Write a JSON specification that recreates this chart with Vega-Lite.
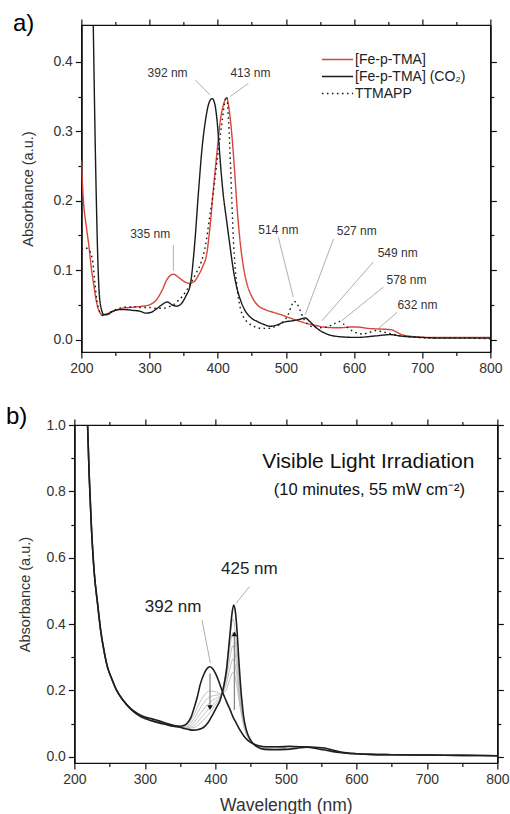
{
  "$schema": "https://vega.github.io/schema/vega-lite/v6.json",
  "background": "white",
  "padding": {"left": 5, "top": 11, "right": 0, "bottom": 0},
  "config": {
    "font": "Liberation Sans",
    "view": {"stroke": "#111", "strokeWidth": 1.2},
    "axis": {"domainColor": "#111", "domainWidth": 1.2, "ticks": true, "tickColor": "#111", "tickWidth": 1.2, "labelFontSize": 14, "labelColor": "#333", "titleFontSize": 14.5, "titleFontWeight": "normal", "titleColor": "#333", "grid": false, "labelOverlap": false, "labelFlush": false}
  },
  "columns": 1,
  "center": true,
  "spacing": 28,
  "concat": [
    {
      "width": 409,
      "height": 327,
      "view": {"stroke": "#111", "strokeWidth": 1.2},
      "title": {"text": "a)", "anchor": "start", "frame": "bounds", "fontSize": 24, "fontWeight": "normal", "color": "#000", "baseline": "alphabetic", "offset": -37, "dx": -8},
      "resolve": {"axis": {"x": "independent", "y": "independent"}},
      "layer": [
        {
          "data": {"values": [
            {"s":"[Fe-p-TMA]","nm":200,"a":0.258},{"s":"[Fe-p-TMA]","nm":203,"a":0.2},{"s":"[Fe-p-TMA]","nm":207,"a":0.165},{"s":"[Fe-p-TMA]","nm":211,"a":0.135},{"s":"[Fe-p-TMA]","nm":215,"a":0.1},{"s":"[Fe-p-TMA]","nm":218,"a":0.08},{"s":"[Fe-p-TMA]","nm":222,"a":0.055},{"s":"[Fe-p-TMA]","nm":226,"a":0.041},{"s":"[Fe-p-TMA]","nm":232,"a":0.035},{"s":"[Fe-p-TMA]","nm":240,"a":0.038},{"s":"[Fe-p-TMA]","nm":250,"a":0.042},{"s":"[Fe-p-TMA]","nm":260,"a":0.045},{"s":"[Fe-p-TMA]","nm":270,"a":0.046},{"s":"[Fe-p-TMA]","nm":280,"a":0.047},{"s":"[Fe-p-TMA]","nm":290,"a":0.048},{"s":"[Fe-p-TMA]","nm":300,"a":0.05},{"s":"[Fe-p-TMA]","nm":310,"a":0.057},{"s":"[Fe-p-TMA]","nm":318,"a":0.07},{"s":"[Fe-p-TMA]","nm":326,"a":0.087},{"s":"[Fe-p-TMA]","nm":335,"a":0.094},{"s":"[Fe-p-TMA]","nm":342,"a":0.09},{"s":"[Fe-p-TMA]","nm":350,"a":0.084},{"s":"[Fe-p-TMA]","nm":358,"a":0.081},{"s":"[Fe-p-TMA]","nm":365,"a":0.083},{"s":"[Fe-p-TMA]","nm":372,"a":0.093},{"s":"[Fe-p-TMA]","nm":378,"a":0.105},{"s":"[Fe-p-TMA]","nm":384,"a":0.124},{"s":"[Fe-p-TMA]","nm":389,"a":0.165},{"s":"[Fe-p-TMA]","nm":394,"a":0.22},{"s":"[Fe-p-TMA]","nm":399,"a":0.27},{"s":"[Fe-p-TMA]","nm":404,"a":0.316},{"s":"[Fe-p-TMA]","nm":409,"a":0.34},{"s":"[Fe-p-TMA]","nm":413,"a":0.348},{"s":"[Fe-p-TMA]","nm":417,"a":0.33},{"s":"[Fe-p-TMA]","nm":421,"a":0.292},{"s":"[Fe-p-TMA]","nm":425,"a":0.24},{"s":"[Fe-p-TMA]","nm":428,"a":0.196},{"s":"[Fe-p-TMA]","nm":433,"a":0.14},{"s":"[Fe-p-TMA]","nm":438,"a":0.103},{"s":"[Fe-p-TMA]","nm":443,"a":0.08},{"s":"[Fe-p-TMA]","nm":450,"a":0.062},{"s":"[Fe-p-TMA]","nm":458,"a":0.05},{"s":"[Fe-p-TMA]","nm":470,"a":0.043},{"s":"[Fe-p-TMA]","nm":482,"a":0.039},{"s":"[Fe-p-TMA]","nm":495,"a":0.035},{"s":"[Fe-p-TMA]","nm":506,"a":0.031},{"s":"[Fe-p-TMA]","nm":518,"a":0.027},{"s":"[Fe-p-TMA]","nm":531,"a":0.023},{"s":"[Fe-p-TMA]","nm":545,"a":0.02},{"s":"[Fe-p-TMA]","nm":555,"a":0.018},{"s":"[Fe-p-TMA]","nm":570,"a":0.017},{"s":"[Fe-p-TMA]","nm":580,"a":0.017},{"s":"[Fe-p-TMA]","nm":595,"a":0.018},{"s":"[Fe-p-TMA]","nm":605,"a":0.018},{"s":"[Fe-p-TMA]","nm":620,"a":0.016},{"s":"[Fe-p-TMA]","nm":640,"a":0.015},{"s":"[Fe-p-TMA]","nm":655,"a":0.014},{"s":"[Fe-p-TMA]","nm":662,"a":0.011},{"s":"[Fe-p-TMA]","nm":670,"a":0.007},{"s":"[Fe-p-TMA]","nm":680,"a":0.005},{"s":"[Fe-p-TMA]","nm":690,"a":0.004},{"s":"[Fe-p-TMA]","nm":710,"a":0.003},{"s":"[Fe-p-TMA]","nm":750,"a":0.003},{"s":"[Fe-p-TMA]","nm":800,"a":0.003},
            {"s":"[Fe-p-TMA] (CO₂)","nm":216,"a":0.55},{"s":"[Fe-p-TMA] (CO₂)","nm":218,"a":0.42},{"s":"[Fe-p-TMA] (CO₂)","nm":220,"a":0.3},{"s":"[Fe-p-TMA] (CO₂)","nm":222,"a":0.2},{"s":"[Fe-p-TMA] (CO₂)","nm":224,"a":0.12},{"s":"[Fe-p-TMA] (CO₂)","nm":226,"a":0.07},{"s":"[Fe-p-TMA] (CO₂)","nm":229,"a":0.045},{"s":"[Fe-p-TMA] (CO₂)","nm":233,"a":0.036},{"s":"[Fe-p-TMA] (CO₂)","nm":238,"a":0.036},{"s":"[Fe-p-TMA] (CO₂)","nm":245,"a":0.04},{"s":"[Fe-p-TMA] (CO₂)","nm":255,"a":0.043},{"s":"[Fe-p-TMA] (CO₂)","nm":265,"a":0.043},{"s":"[Fe-p-TMA] (CO₂)","nm":275,"a":0.042},{"s":"[Fe-p-TMA] (CO₂)","nm":285,"a":0.041},{"s":"[Fe-p-TMA] (CO₂)","nm":295,"a":0.038},{"s":"[Fe-p-TMA] (CO₂)","nm":302,"a":0.039},{"s":"[Fe-p-TMA] (CO₂)","nm":310,"a":0.044},{"s":"[Fe-p-TMA] (CO₂)","nm":318,"a":0.05},{"s":"[Fe-p-TMA] (CO₂)","nm":326,"a":0.054},{"s":"[Fe-p-TMA] (CO₂)","nm":333,"a":0.05},{"s":"[Fe-p-TMA] (CO₂)","nm":340,"a":0.048},{"s":"[Fe-p-TMA] (CO₂)","nm":347,"a":0.052},{"s":"[Fe-p-TMA] (CO₂)","nm":353,"a":0.062},{"s":"[Fe-p-TMA] (CO₂)","nm":360,"a":0.08},{"s":"[Fe-p-TMA] (CO₂)","nm":366,"a":0.135},{"s":"[Fe-p-TMA] (CO₂)","nm":372,"a":0.215},{"s":"[Fe-p-TMA] (CO₂)","nm":377,"a":0.275},{"s":"[Fe-p-TMA] (CO₂)","nm":382,"a":0.315},{"s":"[Fe-p-TMA] (CO₂)","nm":387,"a":0.34},{"s":"[Fe-p-TMA] (CO₂)","nm":392,"a":0.347},{"s":"[Fe-p-TMA] (CO₂)","nm":396,"a":0.338},{"s":"[Fe-p-TMA] (CO₂)","nm":399,"a":0.316},{"s":"[Fe-p-TMA] (CO₂)","nm":402,"a":0.28},{"s":"[Fe-p-TMA] (CO₂)","nm":404,"a":0.254},{"s":"[Fe-p-TMA] (CO₂)","nm":408,"a":0.21},{"s":"[Fe-p-TMA] (CO₂)","nm":413,"a":0.172},{"s":"[Fe-p-TMA] (CO₂)","nm":418,"a":0.135},{"s":"[Fe-p-TMA] (CO₂)","nm":423,"a":0.1},{"s":"[Fe-p-TMA] (CO₂)","nm":428,"a":0.075},{"s":"[Fe-p-TMA] (CO₂)","nm":433,"a":0.058},{"s":"[Fe-p-TMA] (CO₂)","nm":440,"a":0.042},{"s":"[Fe-p-TMA] (CO₂)","nm":448,"a":0.032},{"s":"[Fe-p-TMA] (CO₂)","nm":458,"a":0.026},{"s":"[Fe-p-TMA] (CO₂)","nm":467,"a":0.022},{"s":"[Fe-p-TMA] (CO₂)","nm":477,"a":0.019},{"s":"[Fe-p-TMA] (CO₂)","nm":487,"a":0.021},{"s":"[Fe-p-TMA] (CO₂)","nm":497,"a":0.025},{"s":"[Fe-p-TMA] (CO₂)","nm":510,"a":0.027},{"s":"[Fe-p-TMA] (CO₂)","nm":520,"a":0.029},{"s":"[Fe-p-TMA] (CO₂)","nm":528,"a":0.031},{"s":"[Fe-p-TMA] (CO₂)","nm":535,"a":0.026},{"s":"[Fe-p-TMA] (CO₂)","nm":542,"a":0.019},{"s":"[Fe-p-TMA] (CO₂)","nm":550,"a":0.013},{"s":"[Fe-p-TMA] (CO₂)","nm":560,"a":0.008},{"s":"[Fe-p-TMA] (CO₂)","nm":579,"a":0.004},{"s":"[Fe-p-TMA] (CO₂)","nm":604,"a":0.003},{"s":"[Fe-p-TMA] (CO₂)","nm":630,"a":0.005},{"s":"[Fe-p-TMA] (CO₂)","nm":653,"a":0.007},{"s":"[Fe-p-TMA] (CO₂)","nm":668,"a":0.005},{"s":"[Fe-p-TMA] (CO₂)","nm":680,"a":0.004},{"s":"[Fe-p-TMA] (CO₂)","nm":700,"a":0.003},{"s":"[Fe-p-TMA] (CO₂)","nm":726,"a":0.002},{"s":"[Fe-p-TMA] (CO₂)","nm":800,"a":0.002},
            {"s":"TTMAPP","nm":200,"a":0.13},{"s":"TTMAPP","nm":205,"a":0.132},{"s":"TTMAPP","nm":210,"a":0.13},{"s":"TTMAPP","nm":214,"a":0.124},{"s":"TTMAPP","nm":217,"a":0.11},{"s":"TTMAPP","nm":220,"a":0.08},{"s":"TTMAPP","nm":223,"a":0.055},{"s":"TTMAPP","nm":227,"a":0.04},{"s":"TTMAPP","nm":233,"a":0.034},{"s":"TTMAPP","nm":240,"a":0.038},{"s":"TTMAPP","nm":250,"a":0.043},{"s":"TTMAPP","nm":260,"a":0.046},{"s":"TTMAPP","nm":270,"a":0.047},{"s":"TTMAPP","nm":280,"a":0.047},{"s":"TTMAPP","nm":290,"a":0.046},{"s":"TTMAPP","nm":300,"a":0.046},{"s":"TTMAPP","nm":310,"a":0.045},{"s":"TTMAPP","nm":320,"a":0.045},{"s":"TTMAPP","nm":328,"a":0.047},{"s":"TTMAPP","nm":335,"a":0.05},{"s":"TTMAPP","nm":342,"a":0.056},{"s":"TTMAPP","nm":348,"a":0.062},{"s":"TTMAPP","nm":357,"a":0.075},{"s":"TTMAPP","nm":368,"a":0.095},{"s":"TTMAPP","nm":376,"a":0.112},{"s":"TTMAPP","nm":382,"a":0.135},{"s":"TTMAPP","nm":388,"a":0.175},{"s":"TTMAPP","nm":394,"a":0.215},{"s":"TTMAPP","nm":400,"a":0.265},{"s":"TTMAPP","nm":406,"a":0.31},{"s":"TTMAPP","nm":410,"a":0.34},{"s":"TTMAPP","nm":413,"a":0.35},{"s":"TTMAPP","nm":416,"a":0.315},{"s":"TTMAPP","nm":419,"a":0.245},{"s":"TTMAPP","nm":423,"a":0.145},{"s":"TTMAPP","nm":428,"a":0.078},{"s":"TTMAPP","nm":433,"a":0.046},{"s":"TTMAPP","nm":438,"a":0.032},{"s":"TTMAPP","nm":445,"a":0.024},{"s":"TTMAPP","nm":455,"a":0.018},{"s":"TTMAPP","nm":465,"a":0.016},{"s":"TTMAPP","nm":475,"a":0.016},{"s":"TTMAPP","nm":485,"a":0.019},{"s":"TTMAPP","nm":495,"a":0.025},{"s":"TTMAPP","nm":503,"a":0.035},{"s":"TTMAPP","nm":508,"a":0.048},{"s":"TTMAPP","nm":512,"a":0.055},{"s":"TTMAPP","nm":516,"a":0.052},{"s":"TTMAPP","nm":521,"a":0.042},{"s":"TTMAPP","nm":526,"a":0.03},{"s":"TTMAPP","nm":532,"a":0.022},{"s":"TTMAPP","nm":540,"a":0.018},{"s":"TTMAPP","nm":550,"a":0.017},{"s":"TTMAPP","nm":560,"a":0.018},{"s":"TTMAPP","nm":570,"a":0.022},{"s":"TTMAPP","nm":578,"a":0.026},{"s":"TTMAPP","nm":585,"a":0.022},{"s":"TTMAPP","nm":592,"a":0.016},{"s":"TTMAPP","nm":600,"a":0.011},{"s":"TTMAPP","nm":612,"a":0.008},{"s":"TTMAPP","nm":622,"a":0.01},{"s":"TTMAPP","nm":632,"a":0.013},{"s":"TTMAPP","nm":642,"a":0.011},{"s":"TTMAPP","nm":655,"a":0.008},{"s":"TTMAPP","nm":670,"a":0.005},{"s":"TTMAPP","nm":690,"a":0.003},{"s":"TTMAPP","nm":720,"a":0.002},{"s":"TTMAPP","nm":760,"a":0.002},{"s":"TTMAPP","nm":800,"a":0.001}
          ]},
          "mark": {"type": "line", "strokeWidth": 1.4, "clip": true, "interpolate": "monotone"},
          "encoding": {
            "x": {"field": "nm", "type": "quantitative", "scale": {"domain": [200, 800], "nice": false, "zero": false},
              "axis": {"orient": "bottom", "title": null, "values": [200,300,400,500,600,700,800], "tickSize": 6, "labelPadding": 3}},
            "y": {"field": "a", "type": "quantitative", "scale": {"domain": [-0.018, 0.453], "nice": false, "zero": false},
              "axis": {"orient": "left", "title": "Absorbance (a.u.)", "titlePadding": 17, "values": [0,0.1,0.2,0.3,0.4], "format": ".1f", "tickSize": 6, "labelPadding": 3}},
            "color": {"field": "s", "type": "nominal", "scale": {"domain": ["[Fe-p-TMA]", "[Fe-p-TMA] (CO₂)", "TTMAPP"], "range": ["#d6453a", "#1a1a1a", "#1a1a1a"]},
              "legend": {"title": null, "orient": "none", "legendX": 254, "legendY": 25, "symbolType": "M-1.8,0H1.8", "symbolSize": 300, "symbolStrokeWidth": 1.5, "labelFontSize": 14, "labelColor": "#222", "labelOffset": 8, "rowPadding": -4, "padding": 0}},
            "strokeDash": {"field": "s", "type": "nominal", "scale": {"domain": ["[Fe-p-TMA]", "[Fe-p-TMA] (CO₂)", "TTMAPP"], "range": [[1, 0], [1, 0], [1.6, 3.4]]},
              "legend": {"title": null, "orient": "none", "legendX": 254, "legendY": 25, "symbolType": "M-1.8,0H1.8", "symbolSize": 300, "symbolStrokeWidth": 1.5, "labelFontSize": 14, "labelColor": "#222", "labelOffset": 8, "rowPadding": -4, "padding": 0}}
          }
        },
        {
          "data": {"values": [
            {"x1":367,"y1":0.374,"x2":389,"y2":0.352},
            {"x1":445,"y1":0.369,"x2":418.5,"y2":0.35},
            {"x1":335,"y1":0.136,"x2":335,"y2":0.099}
          ]},
          "mark": {"type": "rule", "color": "#9a9a9a", "strokeWidth": 0.8},
          "encoding": {
            "x": {"field": "x1", "type": "quantitative", "scale": {"domain": [200, 800], "nice": false, "zero": false},
              "axis": {"orient": "bottom", "title": null, "labels": false, "values": [250,350,450,550,650,750], "tickSize": 3.5}},
            "y": {"field": "y1", "type": "quantitative", "scale": {"domain": [-0.018, 0.453], "nice": false, "zero": false},
              "axis": {"orient": "left", "title": null, "labels": false, "values": [0.05,0.15,0.25,0.35], "tickSize": 3.5}},
            "x2": {"field": "x2"},
            "y2": {"field": "y2"}
          }
        },
        {
          "data": {"values": [
            {"x1":489,"y1":0.147,"x2":511,"y2":0.061},
            {"x1":570,"y1":0.145,"x2":528.5,"y2":0.036},
            {"x1":628.6,"y1":0.112,"x2":553,"y2":0.027},
            {"x1":643,"y1":0.0755,"x2":582,"y2":0.027},
            {"x1":663,"y1":0.039,"x2":636,"y2":0.016}
          ]},
          "mark": {"type": "rule", "color": "#9a9a9a", "strokeWidth": 0.8},
          "encoding": {
            "x": {"field": "x1", "type": "quantitative", "scale": {"domain": [200, 800], "nice": false, "zero": false},
              "axis": {"orient": "top", "title": null, "labels": false, "values": [200,300,400,500,600,700,800], "tickSize": 6}},
            "y": {"field": "y1", "type": "quantitative", "scale": {"domain": [-0.018, 0.453], "nice": false, "zero": false},
              "axis": {"orient": "right", "title": null, "labels": false, "values": [0,0.1,0.2,0.3,0.4], "tickSize": 6}},
            "x2": {"field": "x2"},
            "y2": {"field": "y2"}
          }
        },
        {
          "data": {"values": [
            {"t":"392 nm","x":326.5,"y":0.384},
            {"t":"413 nm","x":448,"y":0.384},
            {"t":"335 nm","x":301,"y":0.1525}
          ]},
          "mark": {"type": "text", "fontSize": 12, "color": "#333", "align": "center", "baseline": "middle"},
          "encoding": {
            "x": {"field": "x", "type": "quantitative", "scale": {"domain": [200, 800], "nice": false, "zero": false},
              "axis": {"orient": "top", "title": null, "labels": false, "values": [250,350,450,550,650,750], "tickSize": 3.5}},
            "y": {"field": "y", "type": "quantitative", "scale": {"domain": [-0.018, 0.453], "nice": false, "zero": false},
              "axis": {"orient": "right", "title": null, "labels": false, "values": [0.05,0.15,0.25,0.35], "tickSize": 3.5}},
            "text": {"field": "t"}
          }
        },
        {
          "data": {"values": [
            {"t":"514 nm","x":489,"y":0.158},
            {"t":"527 nm","x":604,"y":0.156},
            {"t":"549 nm","x":664,"y":0.124},
            {"t":"578 nm","x":677,"y":0.085},
            {"t":"632 nm","x":693,"y":0.049}
          ]},
          "mark": {"type": "text", "fontSize": 12, "color": "#333", "align": "center", "baseline": "middle"},
          "encoding": {
            "x": {"field": "x", "type": "quantitative", "scale": {"domain": [200, 800], "nice": false, "zero": false}, "axis": null},
            "y": {"field": "y", "type": "quantitative", "scale": {"domain": [-0.018, 0.453], "nice": false, "zero": false}, "axis": null},
            "text": {"field": "t"}
          }
        }
      ]
    },
    {
      "width": 423,
      "height": 338,
      "view": {"stroke": "#111", "strokeWidth": 1.2},
      "title": {"text": "b)", "anchor": "start", "frame": "bounds", "fontSize": 24, "fontWeight": "normal", "color": "#000", "baseline": "alphabetic", "offset": -30, "dx": -12},
      "resolve": {"axis": {"x": "independent", "y": "independent"}},
      "layer": [
        {
          "data": {"values": [
            {"c":"g1","nm":290,"a":0.129},{"c":"g1","nm":300,"a":0.119},{"c":"g1","nm":320,"a":0.107},{"c":"g1","nm":340,"a":0.094},{"c":"g1","nm":350,"a":0.091},{"c":"g1","nm":360,"a":0.097},{"c":"g1","nm":370,"a":0.128},{"c":"g1","nm":380,"a":0.172},{"c":"g1","nm":392,"a":0.198},{"c":"g1","nm":400,"a":0.196},{"c":"g1","nm":408,"a":0.19},{"c":"g1","nm":415,"a":0.2},{"c":"g1","nm":420,"a":0.23},{"c":"g1","nm":425,"a":0.255},{"c":"g1","nm":430,"a":0.22},{"c":"g1","nm":435,"a":0.15},{"c":"g1","nm":440,"a":0.095},{"c":"g1","nm":450,"a":0.047},{"c":"g1","nm":465,"a":0.031},{"c":"g1","nm":480,"a":0.029},{"c":"g1","nm":500,"a":0.03},
            {"c":"g2","nm":290,"a":0.128},{"c":"g2","nm":300,"a":0.118},{"c":"g2","nm":320,"a":0.106},{"c":"g2","nm":340,"a":0.094},{"c":"g2","nm":350,"a":0.09},{"c":"g2","nm":360,"a":0.093},{"c":"g2","nm":370,"a":0.115},{"c":"g2","nm":380,"a":0.152},{"c":"g2","nm":392,"a":0.18},{"c":"g2","nm":400,"a":0.185},{"c":"g2","nm":408,"a":0.188},{"c":"g2","nm":415,"a":0.215},{"c":"g2","nm":420,"a":0.26},{"c":"g2","nm":425,"a":0.295},{"c":"g2","nm":430,"a":0.25},{"c":"g2","nm":435,"a":0.16},{"c":"g2","nm":440,"a":0.1},{"c":"g2","nm":450,"a":0.047},{"c":"g2","nm":465,"a":0.029},{"c":"g2","nm":480,"a":0.027},{"c":"g2","nm":500,"a":0.028},
            {"c":"g3","nm":290,"a":0.127},{"c":"g3","nm":300,"a":0.117},{"c":"g3","nm":320,"a":0.105},{"c":"g3","nm":340,"a":0.093},{"c":"g3","nm":350,"a":0.09},{"c":"g3","nm":360,"a":0.09},{"c":"g3","nm":370,"a":0.104},{"c":"g3","nm":380,"a":0.134},{"c":"g3","nm":392,"a":0.163},{"c":"g3","nm":400,"a":0.175},{"c":"g3","nm":408,"a":0.186},{"c":"g3","nm":415,"a":0.23},{"c":"g3","nm":420,"a":0.29},{"c":"g3","nm":425,"a":0.335},{"c":"g3","nm":430,"a":0.28},{"c":"g3","nm":435,"a":0.175},{"c":"g3","nm":440,"a":0.105},{"c":"g3","nm":450,"a":0.048},{"c":"g3","nm":465,"a":0.028},{"c":"g3","nm":480,"a":0.025},{"c":"g3","nm":500,"a":0.026},
            {"c":"g4","nm":290,"a":0.127},{"c":"g4","nm":300,"a":0.116},{"c":"g4","nm":320,"a":0.104},{"c":"g4","nm":340,"a":0.093},{"c":"g4","nm":350,"a":0.089},{"c":"g4","nm":360,"a":0.087},{"c":"g4","nm":370,"a":0.095},{"c":"g4","nm":380,"a":0.118},{"c":"g4","nm":392,"a":0.147},{"c":"g4","nm":400,"a":0.165},{"c":"g4","nm":408,"a":0.185},{"c":"g4","nm":415,"a":0.245},{"c":"g4","nm":420,"a":0.32},{"c":"g4","nm":425,"a":0.375},{"c":"g4","nm":430,"a":0.31},{"c":"g4","nm":435,"a":0.19},{"c":"g4","nm":440,"a":0.11},{"c":"g4","nm":450,"a":0.049},{"c":"g4","nm":465,"a":0.027},{"c":"g4","nm":480,"a":0.023},{"c":"g4","nm":500,"a":0.024},
            {"c":"g5","nm":290,"a":0.126},{"c":"g5","nm":300,"a":0.116},{"c":"g5","nm":320,"a":0.103},{"c":"g5","nm":340,"a":0.092},{"c":"g5","nm":350,"a":0.089},{"c":"g5","nm":360,"a":0.085},{"c":"g5","nm":370,"a":0.088},{"c":"g5","nm":380,"a":0.104},{"c":"g5","nm":392,"a":0.132},{"c":"g5","nm":400,"a":0.156},{"c":"g5","nm":408,"a":0.183},{"c":"g5","nm":415,"a":0.26},{"c":"g5","nm":420,"a":0.35},{"c":"g5","nm":425,"a":0.415},{"c":"g5","nm":430,"a":0.34},{"c":"g5","nm":435,"a":0.2},{"c":"g5","nm":440,"a":0.115},{"c":"g5","nm":450,"a":0.049},{"c":"g5","nm":465,"a":0.026},{"c":"g5","nm":480,"a":0.022},{"c":"g5","nm":500,"a":0.023}
          ]},
          "mark": {"type": "line", "color": "#b9b9b9", "strokeWidth": 0.9, "interpolate": "monotone", "clip": true},
          "encoding": {
            "x": {"field": "nm", "type": "quantitative", "scale": {"domain": [200, 800], "nice": false, "zero": false},
              "axis": {"orient": "top", "title": null, "labels": false, "values": [200,300,400,500,600,700,800], "tickSize": 6}},
            "y": {"field": "a", "type": "quantitative", "scale": {"domain": [-0.019, 1.0], "nice": false, "zero": false},
              "axis": {"orient": "right", "title": null, "labels": false, "values": [0,0.2,0.4,0.6,0.8,1.0], "tickSize": 6}},
            "detail": {"field": "c"}
          }
        },
        {
          "data": {"values": [
            {"c":"t0","nm":218,"a":1.05},{"c":"t0","nm":221,"a":0.85},{"c":"t0","nm":224,"a":0.7},{"c":"t0","nm":228,"a":0.56},{"c":"t0","nm":233,"a":0.46},{"c":"t0","nm":238,"a":0.37},{"c":"t0","nm":242,"a":0.32},{"c":"t0","nm":247,"a":0.27},{"c":"t0","nm":253,"a":0.235},{"c":"t0","nm":260,"a":0.2},{"c":"t0","nm":270,"a":0.168},{"c":"t0","nm":280,"a":0.145},{"c":"t0","nm":290,"a":0.13},{"c":"t0","nm":300,"a":0.12},{"c":"t0","nm":310,"a":0.114},{"c":"t0","nm":320,"a":0.108},{"c":"t0","nm":330,"a":0.101},{"c":"t0","nm":340,"a":0.095},{"c":"t0","nm":350,"a":0.092},{"c":"t0","nm":355,"a":0.094},{"c":"t0","nm":360,"a":0.101},{"c":"t0","nm":365,"a":0.117},{"c":"t0","nm":369,"a":0.141},{"c":"t0","nm":374,"a":0.177},{"c":"t0","nm":379,"a":0.221},{"c":"t0","nm":384,"a":0.25},{"c":"t0","nm":388,"a":0.265},{"c":"t0","nm":392,"a":0.271},{"c":"t0","nm":396,"a":0.266},{"c":"t0","nm":400,"a":0.252},{"c":"t0","nm":404,"a":0.232},{"c":"t0","nm":408,"a":0.208},{"c":"t0","nm":413,"a":0.18},{"c":"t0","nm":417,"a":0.16},{"c":"t0","nm":421,"a":0.141},{"c":"t0","nm":425,"a":0.12},{"c":"t0","nm":430,"a":0.1},{"c":"t0","nm":435,"a":0.08},{"c":"t0","nm":442,"a":0.058},{"c":"t0","nm":450,"a":0.043},{"c":"t0","nm":460,"a":0.034},{"c":"t0","nm":473,"a":0.03},{"c":"t0","nm":490,"a":0.03},{"c":"t0","nm":505,"a":0.031},{"c":"t0","nm":520,"a":0.03},{"c":"t0","nm":535,"a":0.028},{"c":"t0","nm":550,"a":0.022},{"c":"t0","nm":565,"a":0.016},{"c":"t0","nm":580,"a":0.012},{"c":"t0","nm":600,"a":0.009},{"c":"t0","nm":620,"a":0.007},{"c":"t0","nm":650,"a":0.006},{"c":"t0","nm":700,"a":0.005},{"c":"t0","nm":750,"a":0.004},{"c":"t0","nm":800,"a":0.003},
            {"c":"t6","nm":218,"a":1.05},{"c":"t6","nm":221,"a":0.85},{"c":"t6","nm":224,"a":0.7},{"c":"t6","nm":228,"a":0.56},{"c":"t6","nm":233,"a":0.46},{"c":"t6","nm":238,"a":0.37},{"c":"t6","nm":242,"a":0.32},{"c":"t6","nm":247,"a":0.27},{"c":"t6","nm":253,"a":0.235},{"c":"t6","nm":260,"a":0.2},{"c":"t6","nm":270,"a":0.168},{"c":"t6","nm":280,"a":0.143},{"c":"t6","nm":290,"a":0.126},{"c":"t6","nm":300,"a":0.115},{"c":"t6","nm":310,"a":0.108},{"c":"t6","nm":320,"a":0.102},{"c":"t6","nm":330,"a":0.097},{"c":"t6","nm":340,"a":0.092},{"c":"t6","nm":350,"a":0.089},{"c":"t6","nm":356,"a":0.085},{"c":"t6","nm":362,"a":0.082},{"c":"t6","nm":369,"a":0.08},{"c":"t6","nm":376,"a":0.082},{"c":"t6","nm":383,"a":0.088},{"c":"t6","nm":390,"a":0.104},{"c":"t6","nm":397,"a":0.13},{"c":"t6","nm":402,"a":0.15},{"c":"t6","nm":407,"a":0.172},{"c":"t6","nm":412,"a":0.213},{"c":"t6","nm":416,"a":0.265},{"c":"t6","nm":419,"a":0.33},{"c":"t6","nm":421,"a":0.375},{"c":"t6","nm":423.5,"a":0.43},{"c":"t6","nm":426,"a":0.457},{"c":"t6","nm":428.5,"a":0.435},{"c":"t6","nm":431,"a":0.372},{"c":"t6","nm":433,"a":0.3},{"c":"t6","nm":435.5,"a":0.221},{"c":"t6","nm":438,"a":0.16},{"c":"t6","nm":440,"a":0.122},{"c":"t6","nm":444,"a":0.08},{"c":"t6","nm":450,"a":0.05},{"c":"t6","nm":455,"a":0.037},{"c":"t6","nm":460,"a":0.029},{"c":"t6","nm":470,"a":0.022},{"c":"t6","nm":485,"a":0.021},{"c":"t6","nm":500,"a":0.022},{"c":"t6","nm":515,"a":0.025},{"c":"t6","nm":530,"a":0.029},{"c":"t6","nm":542,"a":0.028},{"c":"t6","nm":555,"a":0.026},{"c":"t6","nm":565,"a":0.021},{"c":"t6","nm":580,"a":0.013},{"c":"t6","nm":600,"a":0.009},{"c":"t6","nm":620,"a":0.007},{"c":"t6","nm":650,"a":0.006},{"c":"t6","nm":700,"a":0.005},{"c":"t6","nm":750,"a":0.004},{"c":"t6","nm":800,"a":0.003}
          ]},
          "mark": {"type": "line", "color": "#1e1e1e", "strokeWidth": 1.6, "interpolate": "monotone", "clip": true},
          "encoding": {
            "x": {"field": "nm", "type": "quantitative", "scale": {"domain": [200, 800], "nice": false, "zero": false},
              "axis": {"orient": "bottom", "title": "Wavelength (nm)", "titleFontSize": 17.5, "titlePadding": 10, "values": [200,300,400,500,600,700,800], "tickSize": 6, "labelPadding": 3}},
            "y": {"field": "a", "type": "quantitative", "scale": {"domain": [-0.019, 1.0], "nice": false, "zero": false},
              "axis": {"orient": "left", "title": "Absorbance (a.u.)", "titlePadding": 13, "values": [0,0.2,0.4,0.6,0.8,1.0], "format": ".1f", "tickSize": 6, "labelPadding": 3}},
            "detail": {"field": "c"}
          }
        },
        {
          "data": {"values": [
            {"x":392.4,"y1":0.251,"y2":0.15},
            {"x":427,"y1":0.141,"y2":0.37}
          ]},
          "mark": {"type": "rule", "color": "#8a8a8a", "strokeWidth": 1.3},
          "encoding": {
            "x": {"field": "x", "type": "quantitative", "scale": {"domain": [200, 800], "nice": false, "zero": false},
              "axis": {"orient": "bottom", "title": null, "labels": false, "values": [250,350,450,550,650,750], "tickSize": 3.5}},
            "y": {"field": "y1", "type": "quantitative", "scale": {"domain": [-0.019, 1.0], "nice": false, "zero": false},
              "axis": {"orient": "left", "title": null, "labels": false, "values": [0.1,0.3,0.5,0.7,0.9], "tickSize": 3.5}},
            "y2": {"field": "y2"}
          }
        },
        {
          "data": {"values": [
            {"x":392.4,"y":0.148,"dir":"down"},
            {"x":427,"y":0.37,"dir":"up"}
          ]},
          "mark": {"type": "point", "filled": true, "color": "#111", "size": 30, "opacity": 1},
          "encoding": {
            "x": {"field": "x", "type": "quantitative", "scale": {"domain": [200, 800], "nice": false, "zero": false},
              "axis": {"orient": "top", "title": null, "labels": false, "values": [250,350,450,550,650,750], "tickSize": 3.5}},
            "y": {"field": "y", "type": "quantitative", "scale": {"domain": [-0.019, 1.0], "nice": false, "zero": false},
              "axis": {"orient": "right", "title": null, "labels": false, "values": [0.1,0.3,0.5,0.7,0.9], "tickSize": 3.5}},
            "shape": {"field": "dir", "type": "nominal", "scale": {"domain": ["down", "up"], "range": ["triangle-down", "triangle-up"]}, "legend": null}
          }
        },
        {
          "data": {"values": [
            {"x1":381.1,"y1":0.412,"x2":392.9,"y2":0.282},
            {"x1":448.2,"y1":0.5125,"x2":429.4,"y2":0.4625}
          ]},
          "mark": {"type": "rule", "color": "#9a9a9a", "strokeWidth": 0.8},
          "encoding": {
            "x": {"field": "x1", "type": "quantitative", "scale": {"domain": [200, 800], "nice": false, "zero": false}, "axis": null},
            "y": {"field": "y1", "type": "quantitative", "scale": {"domain": [-0.019, 1.0], "nice": false, "zero": false}, "axis": null},
            "x2": {"field": "x2"},
            "y2": {"field": "y2"}
          }
        },
        {
          "data": {"values": [
            {"t":"392 nm","x":340,"y":0.452},
            {"t":"425 nm","x":448.2,"y":0.566}
          ]},
          "mark": {"type": "text", "fontSize": 17, "color": "#222", "align": "center", "baseline": "middle"},
          "encoding": {
            "x": {"field": "x", "type": "quantitative", "scale": {"domain": [200, 800], "nice": false, "zero": false}, "axis": null},
            "y": {"field": "y", "type": "quantitative", "scale": {"domain": [-0.019, 1.0], "nice": false, "zero": false}, "axis": null},
            "text": {"field": "t"}
          }
        },
        {
          "data": {"values": [{"t":"Visible Light Irradiation","x":617,"y":0.889}]},
          "mark": {"type": "text", "fontSize": 21, "color": "#111", "align": "center", "baseline": "middle"},
          "encoding": {
            "x": {"field": "x", "type": "quantitative", "scale": {"domain": [200, 800], "nice": false, "zero": false}, "axis": null},
            "y": {"field": "y", "type": "quantitative", "scale": {"domain": [-0.019, 1.0], "nice": false, "zero": false}, "axis": null},
            "text": {"field": "t"}
          }
        },
        {
          "data": {"values": [{"t":"(10 minutes, 55 mW cm⁻²)","x":618.4,"y":0.804}]},
          "mark": {"type": "text", "fontSize": 16.5, "color": "#111", "align": "center", "baseline": "middle"},
          "encoding": {
            "x": {"field": "x", "type": "quantitative", "scale": {"domain": [200, 800], "nice": false, "zero": false}, "axis": null},
            "y": {"field": "y", "type": "quantitative", "scale": {"domain": [-0.019, 1.0], "nice": false, "zero": false}, "axis": null},
            "text": {"field": "t"}
          }
        }
      ]
    }
  ]
}
